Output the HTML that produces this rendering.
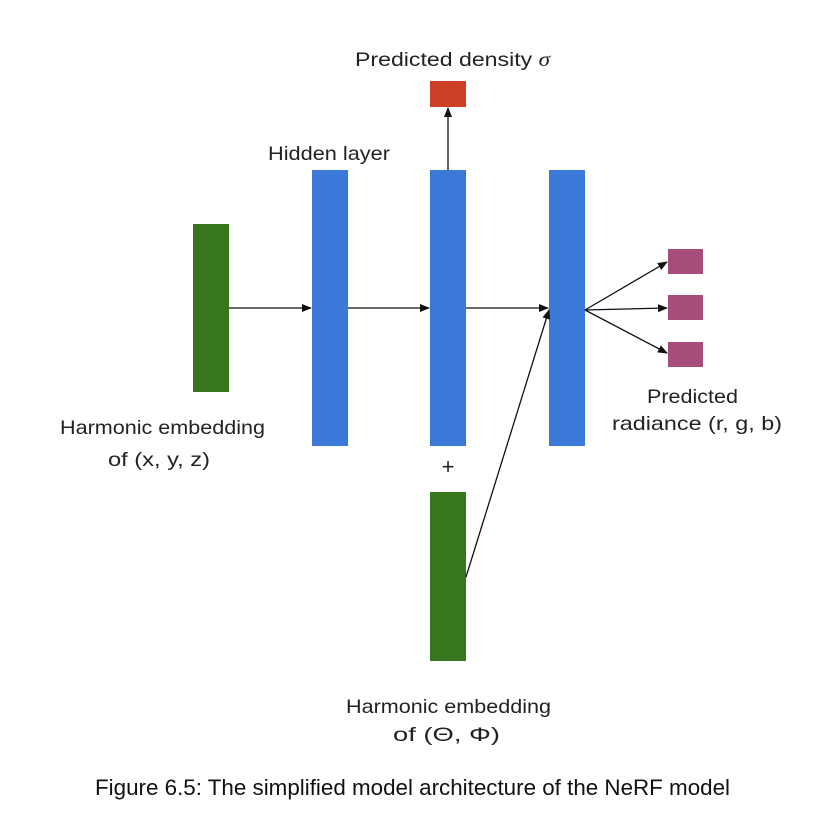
<!DOCTYPE html>
<html><head><meta charset="utf-8"><style>
body{margin:0;background:#fff;}
svg{display:block;font-family:"Liberation Sans",sans-serif;}
</style></head><body>
<svg width="820" height="827" viewBox="0 0 820 827">
<defs><marker id="ah" markerWidth="10" markerHeight="8" refX="9" refY="4" orient="auto" markerUnits="userSpaceOnUse"><path d="M0,0 L10,4 L0,8 z" fill="#111"/></marker></defs>
<rect x="193" y="224" width="36" height="168" fill="#38761d"/>
<rect x="312" y="170" width="36" height="276" fill="#3c78d8"/>
<rect x="430" y="170" width="36" height="276" fill="#3c78d8"/>
<rect x="549" y="170" width="36" height="276" fill="#3c78d8"/>
<rect x="430" y="81" width="36" height="26" fill="#cc4125"/>
<rect x="668" y="249" width="35" height="25" fill="#a64d79"/>
<rect x="668" y="295" width="35" height="25" fill="#a64d79"/>
<rect x="668" y="342" width="35" height="25" fill="#a64d79"/>
<rect x="430" y="492" width="36" height="169" fill="#38761d"/>
<g stroke="#111" stroke-width="1.3" fill="none" marker-end="url(#ah)">
<line x1="229" y1="308" x2="311" y2="308"/>
<line x1="348" y1="308" x2="429" y2="308"/>
<line x1="466" y1="308" x2="548" y2="308"/>
<line x1="448" y1="170" x2="448" y2="108"/>
<line x1="466" y1="577" x2="549" y2="310"/>
<line x1="585" y1="310" x2="667" y2="262"/>
<line x1="585" y1="310" x2="667" y2="308"/>
<line x1="585" y1="310" x2="667" y2="353"/>
</g>
<g font-size="19.5" fill="#222" lengthAdjust="spacingAndGlyphs">
<text x="355" y="66" textLength="195" lengthAdjust="spacingAndGlyphs">Predicted density <tspan font-family="Liberation Serif" font-style="italic">σ</tspan></text>
<text x="268" y="160" textLength="122" lengthAdjust="spacingAndGlyphs">Hidden layer</text>
<text x="60" y="434" textLength="205" lengthAdjust="spacingAndGlyphs">Harmonic embedding</text>
<text x="108" y="466" textLength="102" lengthAdjust="spacingAndGlyphs">of (x, y, z)</text>
<text x="448" y="474" font-size="22" text-anchor="middle">+</text>
<text x="647" y="403" textLength="91" lengthAdjust="spacingAndGlyphs">Predicted</text>
<text x="612" y="430" textLength="170" lengthAdjust="spacingAndGlyphs">radiance (r, g, b)</text>
<text x="346" y="713" textLength="205" lengthAdjust="spacingAndGlyphs">Harmonic embedding</text>
<text x="393" y="741" textLength="107" lengthAdjust="spacingAndGlyphs">of (Θ, Φ)</text>
<text x="95" y="795" font-size="22" fill="#111" textLength="635" lengthAdjust="spacingAndGlyphs">Figure 6.5: The simplified model architecture of the NeRF model</text>
</g>
</svg>
</body></html>
